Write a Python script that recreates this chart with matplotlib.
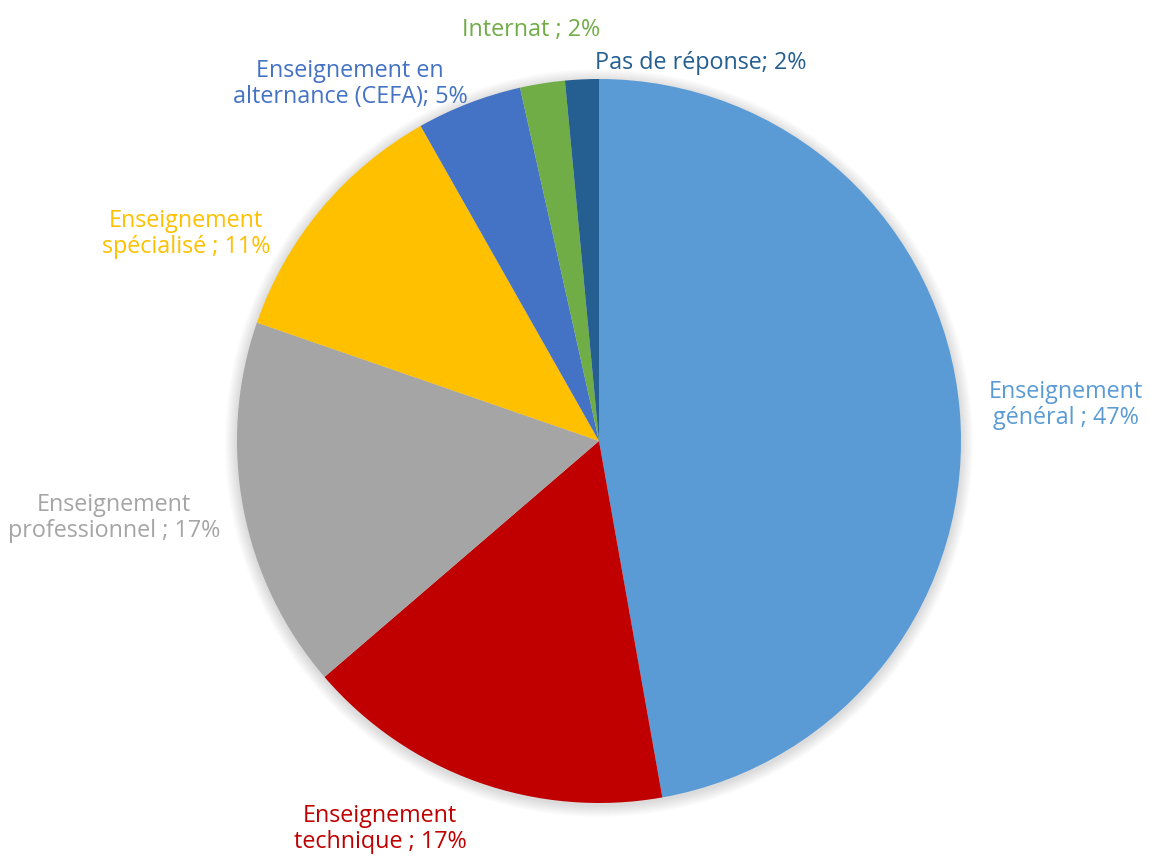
import matplotlib.pyplot as plt
from matplotlib.patches import Circle

labels = ["Enseignement\ngénéral ; 47%", "Enseignement\ntechnique ; 17%",
          "Enseignement\nprofessionnel ; 17%", "Enseignement\nspécialisé ; 11%",
          "Enseignement en\nalternance (CEFA); 5%", "Internat ; 2%",
          "Pas de réponse; 2%"]
values = [47.2, 16.5, 16.6, 11.5, 4.7, 2.0, 1.5]
colors = ["#5B9BD5", "#C00000", "#A5A5A5", "#FFC000", "#4472C4", "#70AD47", "#255E91"]
# label centres in pixel coords (from top left)
label_pos = [(1066, 405), (380, 829), (114, 518), (186, 234), (350, 84), (531, 30), (701, 63)]

plt.rcParams['font.family'] = ['Open Sans', 'DejaVu Sans']

fig = plt.figure(figsize=(11.5, 8.55), dpi=100)
ax = fig.add_axes([0, 0, 1, 1])

cx, cy, r = 599, 855 - 441, 362

# soft shadow
for i in range(12):
    ax.add_patch(Circle((cx, cy - 2), r + 12 - i, color="black", alpha=0.012, lw=0, zorder=1))

ax.pie(values, colors=colors, startangle=90, counterclock=False,
       center=(cx, cy), radius=r, frame=True,
       wedgeprops=dict(linewidth=0, zorder=2))
ax.set_xlim(0, 1150)
ax.set_ylim(0, 855)
ax.set_aspect("equal")
ax.axis("off")

for lab, (x, y), c in zip(labels, label_pos, colors):
    ax.text(x, 855 - y, lab, color=c, fontsize=16.8, ha="center", va="center",
            multialignment="center", linespacing=1.15)

fig.savefig("out.png", dpi=100)
